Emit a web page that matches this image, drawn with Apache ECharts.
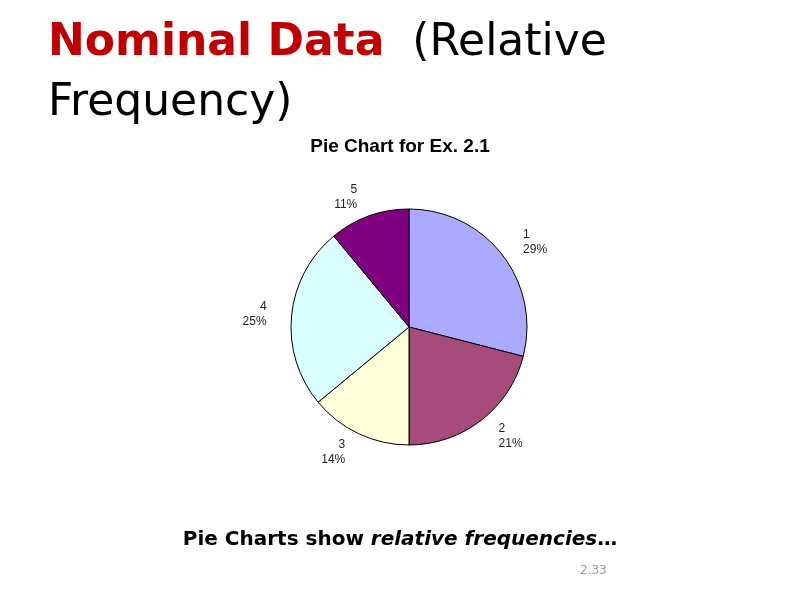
<!DOCTYPE html>
<html><head><meta charset="utf-8">
<script src="https://cdn.jsdelivr.net/npm/echarts@6/dist/echarts.min.js"></script>
<style>html,body{margin:0;padding:0;background:#fff}#c{width:800px;height:600px}</style>
</head><body><div id="c"></div>
<script>
const categories = ['1','2','3','4','5'];
const percents = [29,21,14,25,11];
const colors = ['#AAAAFF','#A64B7A','#FFFFDA','#D9FFFF','#800080'];
const chart = echarts.init(document.getElementById('c'));
chart.setOption({
  animation:false,
  graphic:[
    {type:'text',left:48,top:22,z:1,style:{rich:{b:{fill:'#C00000',fontWeight:'bold',fontSize:44,fontFamily:'DejaVu Sans',lineHeight:60},n:{fill:'#000',fontSize:44,fontFamily:'DejaVu Sans',lineHeight:60}},text:'{b|Nominal Data}{n|  (Relative}\n{n|Frequency)}'}},
    {type:'rect',z:2,shape:{x:30,y:129,width:740,height:40},style:{fill:'#fff'}},
    {type:'text',z:3,left:'center',top:137,style:{text:'Pie Chart for Ex. 2.1',fill:'#000',fontSize:19,fontWeight:'bold',fontFamily:'Liberation Sans'}},
    {type:'text',z:3,left:'center',top:530,style:{rich:{a:{fontWeight:'bold',fontSize:20,fontFamily:'DejaVu Sans',fill:'#000'},i:{fontWeight:'bold',fontStyle:'italic',fontSize:20,fontFamily:'DejaVu Sans',fill:'#000'}},text:'{a|Pie Charts show }{i|relative frequencies}{a|…}'}},
    {type:'text',z:3,left:580,top:565,style:{text:'2.33',fill:'#999',fontSize:12,fontFamily:'DejaVu Sans'}}
  ],
  series:[{
    type:'pie',center:[409,327],radius:118,startAngle:90,clockwise:true,
    itemStyle:{borderColor:'#000',borderWidth:1},
    label:{show:true,position:'outside',formatter:p=>p.name+'\n'+p.value+'%',fontSize:12,fontFamily:'Liberation Sans',color:'#222',lineHeight:15,align:'center'},
    labelLine:{show:false,length:20,length2:0},
    data:categories.map((c,i)=>({name:c,value:percents[i],itemStyle:{color:colors[i]}}))
  }]
});
</script></body></html>
